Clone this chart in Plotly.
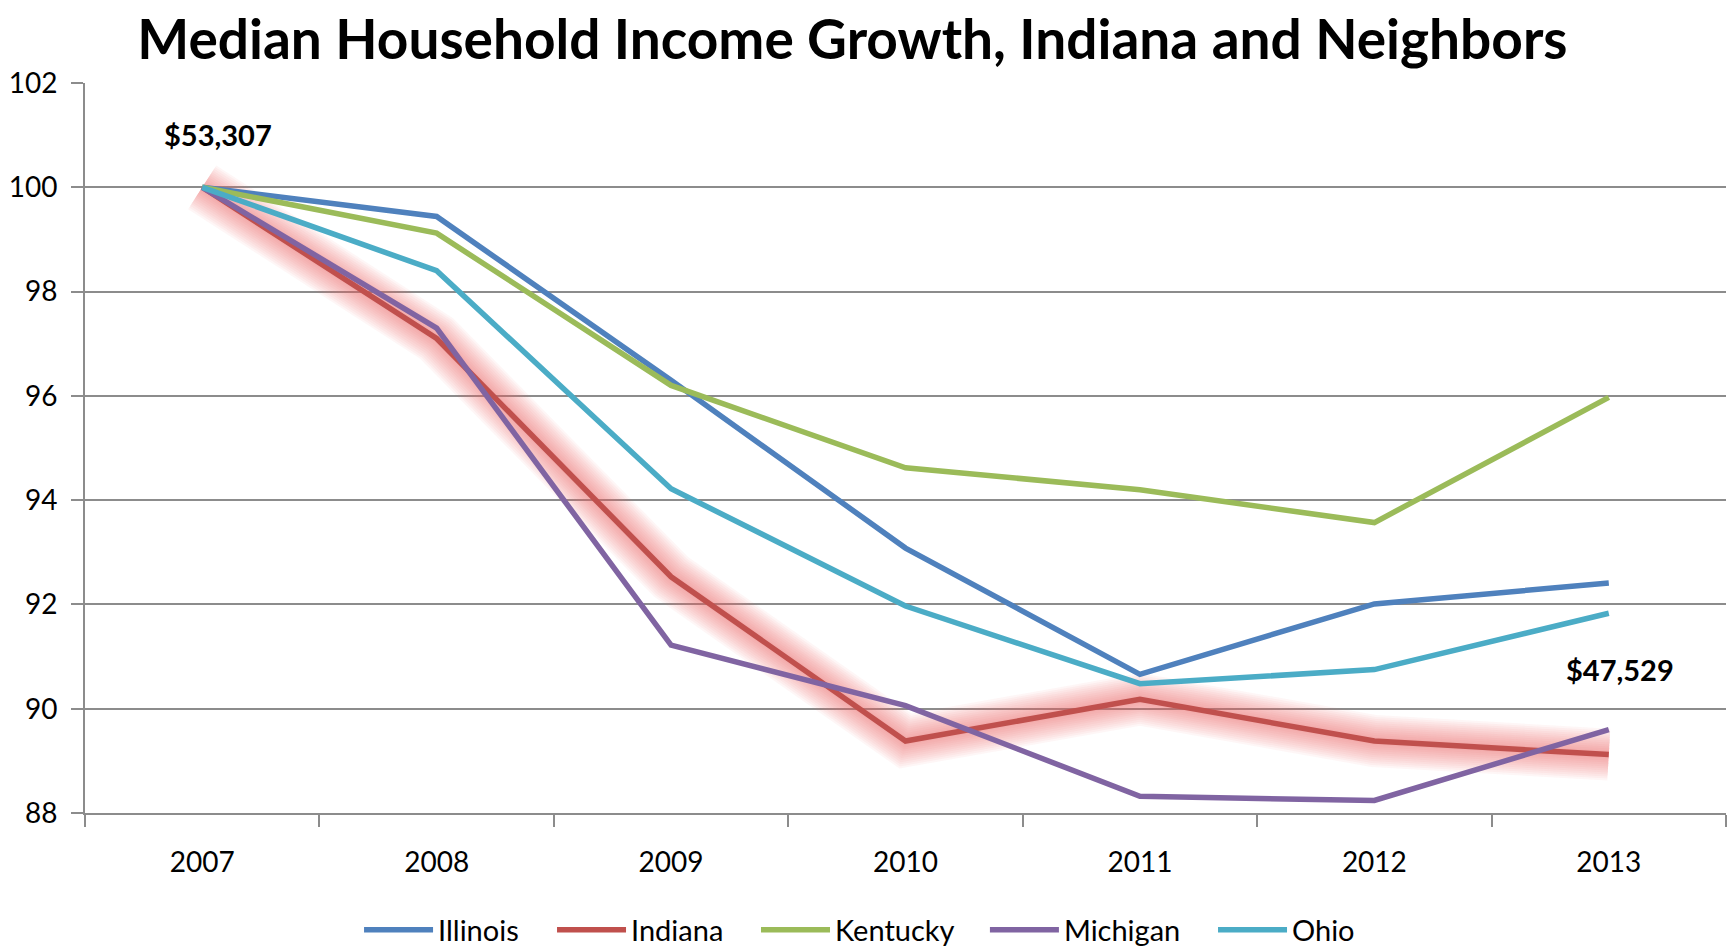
import plotly.graph_objects as go

years = ["2007", "2008", "2009", "2010", "2011", "2012", "2013"]
illinois = [100, 99.44, 96.3, 93.08, 90.66, 92.01, 92.41]
indiana = [100, 97.1, 92.53, 89.38, 90.18, 89.38, 89.12]
kentucky = [100, 99.12, 96.2, 94.62, 94.2, 93.57, 95.97]
michigan = [100, 97.3, 91.22, 90.06, 88.32, 88.24, 89.6]
ohio = [100, 98.4, 94.22, 91.97, 90.48, 90.75, 91.83]

series = [
    ("Illinois", illinois, "#4F81BD"),
    ("Indiana", indiana, "#C0504D"),
    ("Kentucky", kentucky, "#9BBB59"),
    ("Michigan", michigan, "#8064A2"),
    ("Ohio", ohio, "#4BACC6"),
]

label_start = "$53,307"
label_start_value = 101.02
label_end = "$47,529"
label_end_value = 90.76

FONT = "Lato"

fig = go.Figure()

# soft glow under Indiana
for w in range(52, 7, -4):
    fig.add_trace(go.Scatter(
        x=years, y=indiana, mode="lines",
        line=dict(color="rgba(238,95,95,0.06)", width=w),
        hoverinfo="skip", showlegend=False,
    ))

legend_ids = ["legend", "legend2", "legend3", "legend4", "legend5"]
legend_x = [0.167, 0.2846, 0.4089, 0.5484, 0.6874]

for (name, vals, col), lid in zip(series, legend_ids):
    fig.add_trace(go.Scatter(
        x=years, y=vals, mode="lines", name=name,
        line=dict(color=col, width=5.5), legend=lid,
    ))

# category axis: annotation x given as category index
fig.add_annotation(x=0, y=label_start_value, text=label_start, showarrow=False,
                   xshift=16, font=dict(family=FONT, size=29, color="black", weight="bold"))
fig.add_annotation(x=len(years) - 1, y=label_end_value, text=label_end, showarrow=False,
                   xshift=11, font=dict(family=FONT, size=29, color="black", weight="bold"))

legend_style = dict(orientation="h", xanchor="left", xref="paper",
                    yref="container", y=0.0231, yanchor="middle",
                    font=dict(family=FONT, size=29),
                    itemwidth=69, bgcolor="rgba(0,0,0,0)")
layout_legends = {lid: dict(legend_style, x=lx) for lid, lx in zip(legend_ids, legend_x)}

fig.update_layout(
    width=1729, height=952,
    paper_bgcolor="white", plot_bgcolor="white",
    margin=dict(l=85, r=3, t=83, b=139),
    title=dict(text="<b>Median Household Income Growth, Indiana and Neighbors</b>",
               x=0.493, xanchor="center", xref="container", y=0.958, yanchor="middle",
               font=dict(family=FONT, size=55, color="black")),
    font=dict(family=FONT, size=28, color="black"),
    showlegend=True,
    **layout_legends,
)

fig.update_xaxes(
    type="category", range=[-0.5, len(years) - 0.5],
    showgrid=False, showline=True, linecolor="#8c8c8c", linewidth=2,
    ticks="outside", tickson="boundaries", ticklen=12, tickcolor="#8c8c8c", tickwidth=1.5,
    ticklabelstandoff=23, tickfont=dict(family=FONT, size=28), tickangle=0,
)
fig.update_yaxes(
    range=[88, 102], dtick=2, showgrid=True, gridcolor="#8c8c8c", gridwidth=2,
    showline=True, linecolor="#8c8c8c", linewidth=2, zeroline=False,
    ticks="outside", ticklen=12, tickcolor="#8c8c8c", tickwidth=1.5,
    ticklabelstandoff=8, tickfont=dict(family=FONT, size=28),
)

fig.write_html("out.html", config={"displayModeBar": False},
               post_script="document.body.style.margin='0';")
